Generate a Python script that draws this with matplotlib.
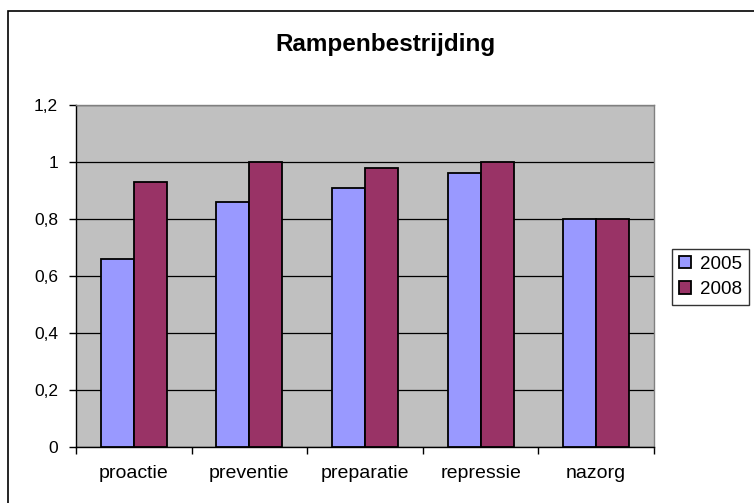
import matplotlib
matplotlib.use("Agg")
import matplotlib.pyplot as plt
from matplotlib.patches import Rectangle
import numpy as np

categories = ["proactie", "preventie", "preparatie", "repressie", "nazorg"]
series_names = ["2005", "2008"]
values_2005 = [0.66, 0.86, 0.91, 0.96, 0.80]
values_2008 = [0.93, 1.00, 0.98, 1.00, 0.80]
yticks = [0, 0.2, 0.4, 0.6, 0.8, 1.0, 1.2]
ytick_labels = ["0", "0,2", "0,4", "0,6", "0,8", "1", "1,2"]
colors = ["#9999FF", "#993366"]

plt.rcParams['font.family'] = ['Liberation Sans', 'DejaVu Sans']

W, H = 754, 503
fig = plt.figure(figsize=(W / 100, H / 100), dpi=100)

# chart border
fig.patches.append(Rectangle((8 / W, -0.05), 1.1, (H - 11) / H + 0.05,
                             transform=fig.transFigure, fill=False,
                             edgecolor="black", linewidth=1.2))

ax = fig.add_axes([76 / W, 1 - 447 / H, (654 - 76) / W, (447 - 105) / H])
ax.set_facecolor("#C0C0C0")

x = np.arange(len(categories))
bw = 1 / 3.5
ax.bar(x - bw / 2, values_2005, bw, color=colors[0], edgecolor="black",
       linewidth=1.3, label=series_names[0], zorder=3)
ax.bar(x + bw / 2, values_2008, bw, color=colors[1], edgecolor="black",
       linewidth=1.3, label=series_names[1], zorder=3)

ax.set_xlim(-0.5, len(categories) - 0.5)
ax.set_ylim(0, 1.2)
ax.set_yticks(yticks)
ax.set_yticklabels(ytick_labels, fontsize=12.5)
ax.yaxis.grid(True, color="black", linewidth=0.9, zorder=1)
ax.set_axisbelow(True)

ax.set_xticks(x)
ax.set_xticklabels(categories, fontsize=14)
ax.tick_params(axis="x", length=0, pad=13)
ax.set_xticks(np.arange(-0.5, len(categories)), minor=True)
ax.tick_params(axis="x", which="minor", length=5, width=1, color="black")
ax.tick_params(axis="y", length=5, width=1, color="black", pad=8)

for side in ["top", "right"]:
    ax.spines[side].set_color("#808080")
    ax.spines[side].set_linewidth(1)
for side in ["left", "bottom"]:
    ax.spines[side].set_color("black")
    ax.spines[side].set_linewidth(1)

fig.text(385 / W, 1 - 45 / H, "Rampenbestrijding", ha="center", va="center",
         fontsize=17.5, fontweight="bold")

leg = ax.legend(loc="center left", bbox_to_anchor=(672 / W, 1 - 277 / H),
                bbox_transform=fig.transFigure, fontsize=13.5, frameon=True,
                fancybox=False, edgecolor="black", handlelength=0.65,
                handleheight=0.65, handletextpad=0.5, borderpad=0.35,
                labelspacing=0.45, borderaxespad=0)
leg.get_frame().set_linewidth(1)

fig.savefig("out.png", dpi=100)
